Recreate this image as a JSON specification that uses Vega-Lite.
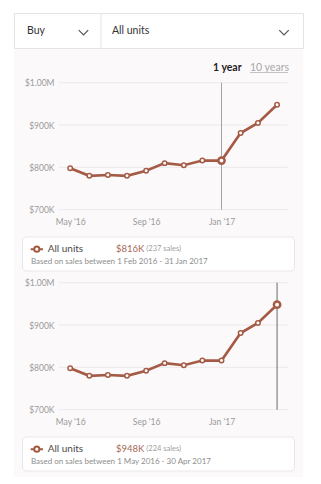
{
  "$schema": "https://vega.github.io/schema/vega-lite/v6.json",
  "background": "white",
  "padding": {"left": 13, "top": 12, "right": 19, "bottom": 8},
  "spacing": 0,
  "config": {"view": {"stroke": null}, "font": "Lato", "concat": {"spacing": 0}},
  "datasets": {
    "prices": [
      {"date": "2016/05/01", "price": 798000},
      {"date": "2016/06/01", "price": 780000},
      {"date": "2016/07/01", "price": 782000},
      {"date": "2016/08/01", "price": 780000},
      {"date": "2016/09/01", "price": 792000},
      {"date": "2016/10/01", "price": 810000},
      {"date": "2016/11/01", "price": 805000},
      {"date": "2016/12/01", "price": 816000},
      {"date": "2017/01/01", "price": 816000},
      {"date": "2017/02/01", "price": 881000},
      {"date": "2017/03/01", "price": 905000},
      {"date": "2017/04/01", "price": 948000}
    ],
    "gridlines": [{"price": 700000}, {"price": 800000}, {"price": 900000}, {"price": 1000000}]
  },
  "vconcat": [
    {
      "width": 289, "height": 35,
      "view": {"fill": "white", "stroke": "#e4e4e4", "strokeWidth": 1},
      "resolve": {"scale": {"x": "independent"}},
      "layer": [
        {"data": {"values": [{"item": "Buy"}]},
         "mark": {"type": "text", "align": "left", "baseline": "middle", "fontSize": 10.5, "color": "#333333"},
         "encoding": {"x": {"field": "item", "type": "nominal", "scale": {"type": "point", "align": 0.045}, "axis": null}, "text": {"field": "item"}}},
        {"data": {"values": [{"item": "chevron"}]},
         "mark": {"type": "point", "shape": "M-1,-0.08L0,0.92L1,-0.08", "filled": false, "stroke": "#555555", "strokeWidth": 1.2, "size": 90, "opacity": 1},
         "encoding": {"x": {"field": "item", "type": "nominal", "scale": {"type": "point", "align": 0.2405}, "axis": null}}},
        {"data": {"values": [{"item": "divider"}]},
         "mark": {"type": "rule", "color": "#e4e4e4", "strokeWidth": 1},
         "encoding": {"x": {"field": "item", "type": "nominal", "scale": {"type": "point", "align": 0.301}, "axis": null}}},
        {"data": {"values": [{"item": "All units"}]},
         "mark": {"type": "text", "align": "left", "baseline": "middle", "fontSize": 10.5, "color": "#333333"},
         "encoding": {"x": {"field": "item", "type": "nominal", "scale": {"type": "point", "align": 0.3391}, "axis": null}, "text": {"field": "item"}}},
        {"data": {"values": [{"item": "chevron"}]},
         "mark": {"type": "point", "shape": "M-1,-0.08L0,0.92L1,-0.08", "filled": false, "stroke": "#555555", "strokeWidth": 1.2, "size": 90, "opacity": 1},
         "encoding": {"x": {"field": "item", "type": "nominal", "scale": {"type": "point", "align": 0.9343}, "axis": null}}}
      ]
    },
    {
      "width": 289, "height": 28,
      "view": {"fill": "#fcf9fa", "stroke": null},
      "resolve": {"scale": {"x": "independent", "y": "independent"}},
      "layer": [
        {"data": {"values": [{"option": "1 year", "row": "text"}]},
         "mark": {"type": "text", "align": "left", "baseline": "middle", "fontSize": 10.5, "fontWeight": "bold", "color": "#222222"},
         "encoding": {
           "x": {"field": "option", "type": "nominal", "scale": {"type": "point", "align": 0.6886}, "axis": null},
           "y": {"field": "row", "type": "nominal", "scale": {"type": "point", "align": 0.679}, "axis": null},
           "text": {"field": "option"}}},
        {"data": {"values": [{"option": "10 years", "row": "text"}]},
         "mark": {"type": "text", "align": "left", "baseline": "middle", "fontSize": 10.5, "color": "#a8a8a8"},
         "encoding": {
           "x": {"field": "option", "type": "nominal", "scale": {"type": "point", "align": 0.8166}, "axis": null},
           "y": {"field": "row", "type": "nominal", "scale": {"type": "point", "align": 0.679}, "axis": null},
           "text": {"field": "option"}}},
        {"data": {"values": [{"option": "10 years underline", "row": "underline"}]},
         "mark": {"type": "point", "shape": "M-1,0L1,0", "filled": false, "stroke": "#c4c4c4", "strokeWidth": 1, "size": 1444, "opacity": 1},
         "encoding": {
           "x": {"field": "option", "type": "nominal", "scale": {"type": "point", "align": 0.8824}, "axis": null},
           "y": {"field": "row", "type": "nominal", "scale": {"type": "point", "align": 0.84}, "axis": null}}}
      ]
    },
    {
      "width": 289, "height": 156,
      "view": {"fill": "#fcf9fa", "stroke": null},
      "layer": [
        {"data": {"name": "gridlines"},
         "mark": {"type": "rule", "color": "#ece8ea", "strokeWidth": 1},
         "encoding": {
           "y": {"field": "price", "type": "quantitative", "scale": {"domain": [644960, 1013460], "nice": false, "zero": false},
                 "axis": {"values": [700000, 800000, 900000, 1000000], "labelExpr": "datum.value >= 1000000 ? '$1.00M' : '$' + format(datum.value / 1000, 'd') + 'K'", "offset": -45, "labelPadding": 5, "labelColor": "#9a9a9a", "labelFontSize": 8.5, "domain": false, "ticks": false, "grid": false, "title": null}},
           "x": {"datum": {"year": 2016, "month": 4, "date": 13}, "type": "temporal", "scale": {"domain": [{"year": 2016, "month": 1, "date": 31}, {"year": 2017, "month": 5, "date": 13}], "nice": false},
                 "axis": {"values": [{"year": 2016, "month": 5, "date": 1}, {"year": 2016, "month": 9, "date": 1}, {"year": 2017, "month": 1, "date": 1}], "format": "%b '%y", "labelColor": "#9a9a9a", "labelFontSize": 8.5, "domain": false, "ticks": false, "grid": false, "offset": -17, "labelPadding": 1.5, "title": null, "labelFlush": false, "labelOverlap": false}},
           "x2": {"datum": {"year": 2017, "month": 4, "date": 18}}}},
        {"data": {"values": [{"date": "2017/01/01"}]},
         "mark": {"type": "rule", "color": "#a3a3a3", "strokeWidth": 1},
         "encoding": {
           "x": {"field": "date", "type": "temporal", "scale": {"domain": [{"year": 2016, "month": 1, "date": 31}, {"year": 2017, "month": 5, "date": 13}], "nice": false},
                 "axis": {"values": [{"year": 2016, "month": 5, "date": 1}, {"year": 2016, "month": 9, "date": 1}, {"year": 2017, "month": 1, "date": 1}], "format": "%b '%y", "labelColor": "#9a9a9a", "labelFontSize": 8.5, "domain": false, "ticks": false, "grid": false, "offset": -17, "labelPadding": 1.5, "title": null, "labelFlush": false, "labelOverlap": false}},
           "y": {"datum": 1000000, "type": "quantitative", "scale": {"domain": [644960, 1013460], "nice": false, "zero": false},
                 "axis": {"values": [700000, 800000, 900000, 1000000], "labelExpr": "datum.value >= 1000000 ? '$1.00M' : '$' + format(datum.value / 1000, 'd') + 'K'", "offset": -45, "labelPadding": 5, "labelColor": "#9a9a9a", "labelFontSize": 8.5, "domain": false, "ticks": false, "grid": false, "title": null}},
           "y2": {"datum": 700000}}},
        {"data": {"name": "prices"},
         "mark": {"type": "line", "color": "#a55a46", "strokeWidth": 2.6},
         "encoding": {
           "x": {"field": "date", "type": "temporal", "scale": {"domain": [{"year": 2016, "month": 1, "date": 31}, {"year": 2017, "month": 5, "date": 13}], "nice": false},
                 "axis": {"values": [{"year": 2016, "month": 5, "date": 1}, {"year": 2016, "month": 9, "date": 1}, {"year": 2017, "month": 1, "date": 1}], "format": "%b '%y", "labelColor": "#9a9a9a", "labelFontSize": 8.5, "domain": false, "ticks": false, "grid": false, "offset": -17, "labelPadding": 1.5, "title": null, "labelFlush": false, "labelOverlap": false}},
           "y": {"field": "price", "type": "quantitative", "scale": {"domain": [644960, 1013460], "nice": false, "zero": false},
                 "axis": {"values": [700000, 800000, 900000, 1000000], "labelExpr": "datum.value >= 1000000 ? '$1.00M' : '$' + format(datum.value / 1000, 'd') + 'K'", "offset": -45, "labelPadding": 5, "labelColor": "#9a9a9a", "labelFontSize": 8.5, "domain": false, "ticks": false, "grid": false, "title": null}}}},
        {"data": {"name": "prices"},
         "mark": {"type": "point", "filled": false, "fill": "white", "stroke": "#a55a46", "strokeWidth": 1.5, "size": 20, "opacity": 1},
         "encoding": {
           "x": {"field": "date", "type": "temporal", "scale": {"domain": [{"year": 2016, "month": 1, "date": 31}, {"year": 2017, "month": 5, "date": 13}], "nice": false},
                 "axis": {"values": [{"year": 2016, "month": 5, "date": 1}, {"year": 2016, "month": 9, "date": 1}, {"year": 2017, "month": 1, "date": 1}], "format": "%b '%y", "labelColor": "#9a9a9a", "labelFontSize": 8.5, "domain": false, "ticks": false, "grid": false, "offset": -17, "labelPadding": 1.5, "title": null, "labelFlush": false, "labelOverlap": false}},
           "y": {"field": "price", "type": "quantitative", "scale": {"domain": [644960, 1013460], "nice": false, "zero": false},
                 "axis": {"values": [700000, 800000, 900000, 1000000], "labelExpr": "datum.value >= 1000000 ? '$1.00M' : '$' + format(datum.value / 1000, 'd') + 'K'", "offset": -45, "labelPadding": 5, "labelColor": "#9a9a9a", "labelFontSize": 8.5, "domain": false, "ticks": false, "grid": false, "title": null}}}},
        {"data": {"values": [{"date": "2017/01/01", "price": 816000}]},
         "mark": {"type": "point", "filled": false, "fill": "white", "stroke": "#a55a46", "strokeWidth": 2.5, "size": 40, "opacity": 1},
         "encoding": {
           "x": {"field": "date", "type": "temporal", "scale": {"domain": [{"year": 2016, "month": 1, "date": 31}, {"year": 2017, "month": 5, "date": 13}], "nice": false},
                 "axis": {"values": [{"year": 2016, "month": 5, "date": 1}, {"year": 2016, "month": 9, "date": 1}, {"year": 2017, "month": 1, "date": 1}], "format": "%b '%y", "labelColor": "#9a9a9a", "labelFontSize": 8.5, "domain": false, "ticks": false, "grid": false, "offset": -17, "labelPadding": 1.5, "title": null, "labelFlush": false, "labelOverlap": false}},
           "y": {"field": "price", "type": "quantitative", "scale": {"domain": [644960, 1013460], "nice": false, "zero": false},
                 "axis": {"values": [700000, 800000, 900000, 1000000], "labelExpr": "datum.value >= 1000000 ? '$1.00M' : '$' + format(datum.value / 1000, 'd') + 'K'", "offset": -45, "labelPadding": 5, "labelColor": "#9a9a9a", "labelFontSize": 8.5, "domain": false, "ticks": false, "grid": false, "title": null}}}}
      ]
    },
    {
      "width": 289, "height": 44,
      "view": {"fill": "#fcf9fa", "stroke": null},
      "resolve": {"scale": {"x": "independent", "y": "independent"}},
      "layer": [
        {"data": {"values": [{"box": "summary"}]},
         "mark": {"type": "rect", "fill": "white", "stroke": "#ebe6e7", "strokeWidth": 1, "cornerRadius": 4},
         "encoding": {
           "x": {"field": "box", "type": "nominal", "scale": {"type": "band", "paddingInner": 0, "paddingOuter": 0.03125, "align": 0.5}, "axis": null},
           "y": {"field": "box", "type": "nominal", "scale": {"type": "band", "paddingInner": 0, "paddingOuter": 0.147, "align": 0.4}, "axis": null}}},
        {"data": {"values": [{"part": "marker", "row": "l1"}]},
         "mark": {"type": "point", "shape": "M-1,0L-0.42,0M0.42,0L1,0M0.42,0A0.42,0.42,0,1,1,-0.42,0A0.42,0.42,0,1,1,0.42,0", "filled": false, "stroke": "#a55a46", "strokeWidth": 2, "size": 150, "opacity": 1},
         "encoding": {
           "x": {"field": "part", "type": "nominal", "scale": {"type": "point", "align": 0.0789}, "axis": null},
           "y": {"field": "row", "type": "nominal", "scale": {"type": "point", "align": 0.368}, "axis": null}}},
        {"data": {"values": [{"part": "label", "row": "l1", "text": "All units"}]},
         "mark": {"type": "text", "align": "left", "baseline": "middle", "fontSize": 10, "color": "#4a4a4a"},
         "encoding": {
           "x": {"field": "part", "type": "nominal", "scale": {"type": "point", "align": 0.1166}, "axis": null},
           "y": {"field": "row", "type": "nominal", "scale": {"type": "point", "align": 0.368}, "axis": null},
           "text": {"field": "text"}}},
        {"data": {"values": [{"part": "value", "row": "l1", "text": "$816K"}]},
         "mark": {"type": "text", "align": "left", "baseline": "middle", "fontSize": 9.5, "color": "#a66a58"},
         "encoding": {
           "x": {"field": "part", "type": "nominal", "scale": {"type": "point", "align": 0.3529}, "axis": null},
           "y": {"field": "row", "type": "nominal", "scale": {"type": "point", "align": 0.368}, "axis": null},
           "text": {"field": "text"}}},
        {"data": {"values": [{"part": "count", "row": "l1", "text": "(237 sales)"}]},
         "mark": {"type": "text", "align": "left", "baseline": "middle", "fontSize": 7.5, "color": "#a0a0a0"},
         "encoding": {
           "x": {"field": "part", "type": "nominal", "scale": {"type": "point", "align": 0.458}, "axis": null},
           "y": {"field": "row", "type": "nominal", "scale": {"type": "point", "align": 0.368}, "axis": null},
           "text": {"field": "text"}}},
        {"data": {"values": [{"part": "note", "row": "l2", "text": "Based on sales between 1 Feb 2016 - 31 Jan 2017"}]},
         "mark": {"type": "text", "align": "left", "baseline": "middle", "fontSize": 8, "color": "#8e8e8e"},
         "encoding": {
           "x": {"field": "part", "type": "nominal", "scale": {"type": "point", "align": 0.0588}, "axis": null},
           "y": {"field": "row", "type": "nominal", "scale": {"type": "point", "align": 0.659}, "axis": null},
           "text": {"field": "text"}}}
      ]
    },
    {
      "width": 289, "height": 156,
      "view": {"fill": "#fcf9fa", "stroke": null},
      "layer": [
        {"data": {"name": "gridlines"},
         "mark": {"type": "rule", "color": "#ece8ea", "strokeWidth": 1},
         "encoding": {
           "y": {"field": "price", "type": "quantitative", "scale": {"domain": [644960, 1013460], "nice": false, "zero": false},
                 "axis": {"values": [700000, 800000, 900000, 1000000], "labelExpr": "datum.value >= 1000000 ? '$1.00M' : '$' + format(datum.value / 1000, 'd') + 'K'", "offset": -45, "labelPadding": 5, "labelColor": "#9a9a9a", "labelFontSize": 8.5, "domain": false, "ticks": false, "grid": false, "title": null}},
           "x": {"datum": {"year": 2016, "month": 4, "date": 13}, "type": "temporal", "scale": {"domain": [{"year": 2016, "month": 1, "date": 31}, {"year": 2017, "month": 5, "date": 13}], "nice": false},
                 "axis": {"values": [{"year": 2016, "month": 5, "date": 1}, {"year": 2016, "month": 9, "date": 1}, {"year": 2017, "month": 1, "date": 1}], "format": "%b '%y", "labelColor": "#9a9a9a", "labelFontSize": 8.5, "domain": false, "ticks": false, "grid": false, "offset": -17, "labelPadding": 1.5, "title": null, "labelFlush": false, "labelOverlap": false}},
           "x2": {"datum": {"year": 2017, "month": 4, "date": 18}}}},
        {"data": {"values": [{"date": "2017/04/01"}]},
         "mark": {"type": "rule", "color": "#6a6a6a", "strokeWidth": 1},
         "encoding": {
           "x": {"field": "date", "type": "temporal", "scale": {"domain": [{"year": 2016, "month": 1, "date": 31}, {"year": 2017, "month": 5, "date": 13}], "nice": false},
                 "axis": {"values": [{"year": 2016, "month": 5, "date": 1}, {"year": 2016, "month": 9, "date": 1}, {"year": 2017, "month": 1, "date": 1}], "format": "%b '%y", "labelColor": "#9a9a9a", "labelFontSize": 8.5, "domain": false, "ticks": false, "grid": false, "offset": -17, "labelPadding": 1.5, "title": null, "labelFlush": false, "labelOverlap": false}},
           "y": {"datum": 1000000, "type": "quantitative", "scale": {"domain": [644960, 1013460], "nice": false, "zero": false},
                 "axis": {"values": [700000, 800000, 900000, 1000000], "labelExpr": "datum.value >= 1000000 ? '$1.00M' : '$' + format(datum.value / 1000, 'd') + 'K'", "offset": -45, "labelPadding": 5, "labelColor": "#9a9a9a", "labelFontSize": 8.5, "domain": false, "ticks": false, "grid": false, "title": null}},
           "y2": {"datum": 700000}}},
        {"data": {"name": "prices"},
         "mark": {"type": "line", "color": "#a55a46", "strokeWidth": 2.6},
         "encoding": {
           "x": {"field": "date", "type": "temporal", "scale": {"domain": [{"year": 2016, "month": 1, "date": 31}, {"year": 2017, "month": 5, "date": 13}], "nice": false},
                 "axis": {"values": [{"year": 2016, "month": 5, "date": 1}, {"year": 2016, "month": 9, "date": 1}, {"year": 2017, "month": 1, "date": 1}], "format": "%b '%y", "labelColor": "#9a9a9a", "labelFontSize": 8.5, "domain": false, "ticks": false, "grid": false, "offset": -17, "labelPadding": 1.5, "title": null, "labelFlush": false, "labelOverlap": false}},
           "y": {"field": "price", "type": "quantitative", "scale": {"domain": [644960, 1013460], "nice": false, "zero": false},
                 "axis": {"values": [700000, 800000, 900000, 1000000], "labelExpr": "datum.value >= 1000000 ? '$1.00M' : '$' + format(datum.value / 1000, 'd') + 'K'", "offset": -45, "labelPadding": 5, "labelColor": "#9a9a9a", "labelFontSize": 8.5, "domain": false, "ticks": false, "grid": false, "title": null}}}},
        {"data": {"name": "prices"},
         "mark": {"type": "point", "filled": false, "fill": "white", "stroke": "#a55a46", "strokeWidth": 1.5, "size": 20, "opacity": 1},
         "encoding": {
           "x": {"field": "date", "type": "temporal", "scale": {"domain": [{"year": 2016, "month": 1, "date": 31}, {"year": 2017, "month": 5, "date": 13}], "nice": false},
                 "axis": {"values": [{"year": 2016, "month": 5, "date": 1}, {"year": 2016, "month": 9, "date": 1}, {"year": 2017, "month": 1, "date": 1}], "format": "%b '%y", "labelColor": "#9a9a9a", "labelFontSize": 8.5, "domain": false, "ticks": false, "grid": false, "offset": -17, "labelPadding": 1.5, "title": null, "labelFlush": false, "labelOverlap": false}},
           "y": {"field": "price", "type": "quantitative", "scale": {"domain": [644960, 1013460], "nice": false, "zero": false},
                 "axis": {"values": [700000, 800000, 900000, 1000000], "labelExpr": "datum.value >= 1000000 ? '$1.00M' : '$' + format(datum.value / 1000, 'd') + 'K'", "offset": -45, "labelPadding": 5, "labelColor": "#9a9a9a", "labelFontSize": 8.5, "domain": false, "ticks": false, "grid": false, "title": null}}}},
        {"data": {"values": [{"date": "2017/04/01", "price": 948000}]},
         "mark": {"type": "point", "filled": false, "fill": "white", "stroke": "#a55a46", "strokeWidth": 2.5, "size": 40, "opacity": 1},
         "encoding": {
           "x": {"field": "date", "type": "temporal", "scale": {"domain": [{"year": 2016, "month": 1, "date": 31}, {"year": 2017, "month": 5, "date": 13}], "nice": false},
                 "axis": {"values": [{"year": 2016, "month": 5, "date": 1}, {"year": 2016, "month": 9, "date": 1}, {"year": 2017, "month": 1, "date": 1}], "format": "%b '%y", "labelColor": "#9a9a9a", "labelFontSize": 8.5, "domain": false, "ticks": false, "grid": false, "offset": -17, "labelPadding": 1.5, "title": null, "labelFlush": false, "labelOverlap": false}},
           "y": {"field": "price", "type": "quantitative", "scale": {"domain": [644960, 1013460], "nice": false, "zero": false},
                 "axis": {"values": [700000, 800000, 900000, 1000000], "labelExpr": "datum.value >= 1000000 ? '$1.00M' : '$' + format(datum.value / 1000, 'd') + 'K'", "offset": -45, "labelPadding": 5, "labelColor": "#9a9a9a", "labelFontSize": 8.5, "domain": false, "ticks": false, "grid": false, "title": null}}}}
      ]
    },
    {
      "width": 289, "height": 44,
      "view": {"fill": "#fcf9fa", "stroke": null},
      "resolve": {"scale": {"x": "independent", "y": "independent"}},
      "layer": [
        {"data": {"values": [{"box": "summary"}]},
         "mark": {"type": "rect", "fill": "white", "stroke": "#ebe6e7", "strokeWidth": 1, "cornerRadius": 4},
         "encoding": {
           "x": {"field": "box", "type": "nominal", "scale": {"type": "band", "paddingInner": 0, "paddingOuter": 0.03125, "align": 0.5}, "axis": null},
           "y": {"field": "box", "type": "nominal", "scale": {"type": "band", "paddingInner": 0, "paddingOuter": 0.147, "align": 0.4}, "axis": null}}},
        {"data": {"values": [{"part": "marker", "row": "l1"}]},
         "mark": {"type": "point", "shape": "M-1,0L-0.42,0M0.42,0L1,0M0.42,0A0.42,0.42,0,1,1,-0.42,0A0.42,0.42,0,1,1,0.42,0", "filled": false, "stroke": "#a55a46", "strokeWidth": 2, "size": 150, "opacity": 1},
         "encoding": {
           "x": {"field": "part", "type": "nominal", "scale": {"type": "point", "align": 0.0789}, "axis": null},
           "y": {"field": "row", "type": "nominal", "scale": {"type": "point", "align": 0.368}, "axis": null}}},
        {"data": {"values": [{"part": "label", "row": "l1", "text": "All units"}]},
         "mark": {"type": "text", "align": "left", "baseline": "middle", "fontSize": 10, "color": "#4a4a4a"},
         "encoding": {
           "x": {"field": "part", "type": "nominal", "scale": {"type": "point", "align": 0.1166}, "axis": null},
           "y": {"field": "row", "type": "nominal", "scale": {"type": "point", "align": 0.368}, "axis": null},
           "text": {"field": "text"}}},
        {"data": {"values": [{"part": "value", "row": "l1", "text": "$948K"}]},
         "mark": {"type": "text", "align": "left", "baseline": "middle", "fontSize": 9.5, "color": "#a66a58"},
         "encoding": {
           "x": {"field": "part", "type": "nominal", "scale": {"type": "point", "align": 0.3529}, "axis": null},
           "y": {"field": "row", "type": "nominal", "scale": {"type": "point", "align": 0.368}, "axis": null},
           "text": {"field": "text"}}},
        {"data": {"values": [{"part": "count", "row": "l1", "text": "(224 sales)"}]},
         "mark": {"type": "text", "align": "left", "baseline": "middle", "fontSize": 7.5, "color": "#a0a0a0"},
         "encoding": {
           "x": {"field": "part", "type": "nominal", "scale": {"type": "point", "align": 0.458}, "axis": null},
           "y": {"field": "row", "type": "nominal", "scale": {"type": "point", "align": 0.368}, "axis": null},
           "text": {"field": "text"}}},
        {"data": {"values": [{"part": "note", "row": "l2", "text": "Based on sales between 1 May 2016 - 30 Apr 2017"}]},
         "mark": {"type": "text", "align": "left", "baseline": "middle", "fontSize": 8, "color": "#8e8e8e"},
         "encoding": {
           "x": {"field": "part", "type": "nominal", "scale": {"type": "point", "align": 0.0588}, "axis": null},
           "y": {"field": "row", "type": "nominal", "scale": {"type": "point", "align": 0.659}, "axis": null},
           "text": {"field": "text"}}}
      ]
    }
  ]
}
